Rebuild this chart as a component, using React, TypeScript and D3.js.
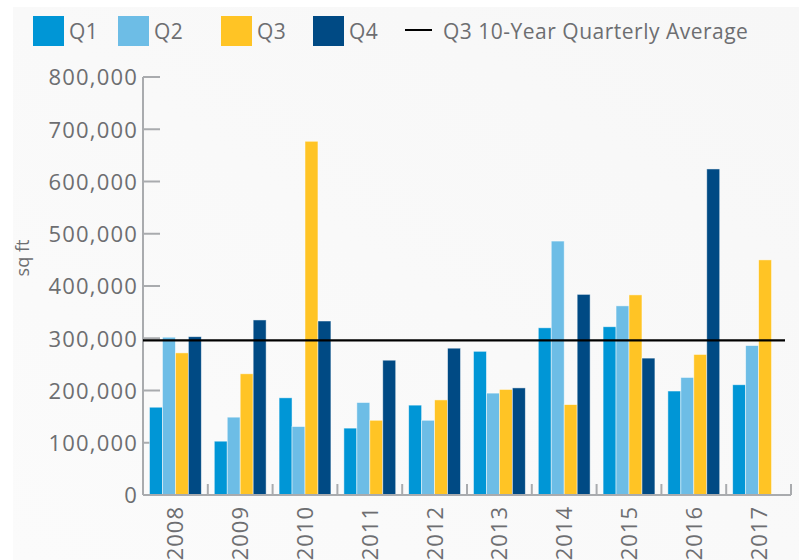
import React from "react";
import * as d3 from "d3";

const years = ["2008", "2009", "2010", "2011", "2012", "2013", "2014", "2015", "2016", "2017"];
const quarters = ["Q1", "Q2", "Q3", "Q4"];
const q1 = [168000, 103000, 186000, 128000, 172000, 275000, 320000, 322000, 199000, 211000];
const q2 = [302000, 149000, 131000, 177000, 143000, 195000, 486000, 362000, 225000, 286000];
const q3 = [272000, 232000, 677000, 143000, 182000, 202000, 173000, 383000, 269000, 450000];
const q4 = [303000, 335000, 333000, 258000, 281000, 205000, 384000, 262000, 624000, null];
const yTicks = [0, 100000, 200000, 300000, 400000, 500000, 600000, 700000, 800000];
const q3Average = 296000;
const legendLineLabel = "Q3 10-Year Quarterly Average";
const yAxisLabel = "sq ft";

const colors: Record<string, string> = {
  Q1: "#0096d6",
  Q2: "#6dbde6",
  Q3: "#ffc425",
  Q4: "#004a84",
};

const series: Record<string, (number | null)[]> = { Q1: q1, Q2: q2, Q3: q3, Q4: q4 };

export default function App() {
  const W = 799;
  const H = 560;
  const left = 143;
  const right = 791;
  const top = 77;
  const bottom = 495;
  const textColor = "#6d6e71";
  const axisColor = "#a9abae";
  const font = "'Open Sans', sans-serif";

  const y = d3.scaleLinear().domain([0, 800000]).range([bottom, top]);
  const x0 = d3.scaleBand<string>().domain(years).range([left, right]).paddingInner(0.2).paddingOuter(0.1);
  const x1 = d3.scaleBand<string>().domain(quarters).range([0, x0.bandwidth()]);
  const fmt = d3.format(",");
  const step = x0.step();
  const separators = d3.range(1, years.length + 1).map((i) => left + i * step);

  const legendItems = [
    { q: "Q1", x: 33 },
    { q: "Q2", x: 118 },
    { q: "Q3", x: 221 },
    { q: "Q4", x: 313 },
  ];

  return (
    <svg width={W} height={H} style={{ position: "absolute", left: 0, top: 0, display: "block" }}>
      <defs>
        <linearGradient id="bg" x1="0" y1="1" x2="1" y2="0">
          <stop offset="0" stopColor="#fbfbfb" />
          <stop offset="1" stopColor="#f7f7f7" />
        </linearGradient>
      </defs>
      <rect x={0} y={0} width={W} height={H} fill="#ffffff" />
      <rect x={13} y={7} width={W - 13} height={H - 7} fill="url(#bg)" />

      {/* legend */}
      {legendItems.map((it) => (
        <g key={it.q}>
          <rect x={it.x} y={16} width={31} height={30} fill={colors[it.q]} />
          <text x={it.x + 36} y={31} dy="0.36em" fontFamily={font} fontSize={21} letterSpacing={0.5} fill={textColor}>
            {it.q}
          </text>
        </g>
      ))}
      <line x1={405} x2={432} y1={30} y2={30} stroke="#000" strokeWidth={2} />
      <text x={443} y={31} dy="0.36em" fontFamily={font} fontSize={21} letterSpacing={0.5} fill={textColor}>
        {legendLineLabel}
      </text>

      {/* y axis label */}
      <text
        transform={`translate(29, 258) rotate(-90)`}
        textAnchor="middle"
        fontFamily={font}
        fontSize={18}
        fill={textColor}
      >
        {yAxisLabel}
      </text>

      {/* y ticks */}
      {yTicks.map((t) => (
        <g key={t}>
          {t > 0 && <line x1={left} x2={left + 17} y1={y(t)} y2={y(t)} stroke={axisColor} strokeWidth={2} />}
          <text x={138} y={y(t)} dy="0.38em" textAnchor="end" fontFamily={font} fontSize={22} letterSpacing={1.2} fill={textColor}>
            {fmt(t)}
          </text>
        </g>
      ))}

      {/* bars */}
      {years.map((yr, i) => (
        <g key={yr} transform={`translate(${x0(yr)},0)`}>
          {quarters.map((q) => {
            const v = series[q][i];
            if (v == null) return null;
            return (
              <rect
                key={q}
                x={x1(q)}
                y={y(v)}
                width={x1.bandwidth()}
                height={bottom - y(v)}
                fill={colors[q]}
                stroke="#ffffff"
                strokeOpacity={0.6}
                strokeWidth={0.8}
              />
            );
          })}
        </g>
      ))}

      {/* axes */}
      <line x1={left} x2={left} y1={top} y2={bottom} stroke={axisColor} strokeWidth={2} />
      <line x1={left} x2={right} y1={bottom} y2={bottom} stroke={axisColor} strokeWidth={2} />
      {separators.map((sx, i) => (
        <line key={i} x1={sx} x2={sx} y1={bottom} y2={bottom - 11} stroke={axisColor} strokeWidth={2} />
      ))}

      {/* average line */}
      <line x1={left} x2={785} y1={y(q3Average)} y2={y(q3Average)} stroke="#000" strokeWidth={2.2} />

      {/* x labels */}
      {years.map((yr) => (
        <text
          key={yr}
          transform={`translate(${(x0(yr) as number) + x0.bandwidth() / 2}, 506) rotate(-90)`}
          textAnchor="end"
          dy="0.36em"
          fontFamily={font}
          fontSize={22}
          letterSpacing={1}
          fill={textColor}
        >
          {yr}
        </text>
      ))}
    </svg>
  );
}
